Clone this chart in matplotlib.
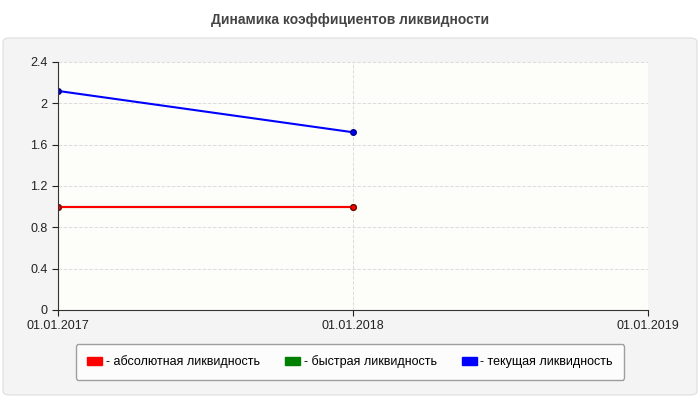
import matplotlib
matplotlib.use("Agg")
import matplotlib.pyplot as plt
from matplotlib.patches import FancyBboxPatch, Patch

plt.rcParams['font.family'] = ['Liberation Sans', 'DejaVu Sans']

dates = ["01.01.2017", "01.01.2018", "01.01.2019"]
absolute = [1.0, 1.0]
quick = [1.0, 1.0]
current = [2.12, 1.72]
yticks = [0, 0.4, 0.8, 1.2, 1.6, 2, 2.4]
ylabels = ["0", "0.4", "0.8", "1.2", "1.6", "2", "2.4"]

fig = plt.figure(figsize=(7, 4), dpi=100)
fig.patch.set_facecolor("white")
panel = FancyBboxPatch((3/700, 5/400), 694/700, 357/400, boxstyle="round,pad=0,rounding_size=0.01",
                       transform=fig.transFigure, facecolor="#f4f4f4", edgecolor="#dddddd", lw=0.8,
                       zorder=-10)
fig.patches.append(panel)
fig.text(0.5, 1 - 20/400, "Динамика коэффициентов ликвидности", ha="center", va="center",
         fontsize=10, fontweight="bold", color="#444444")

ax = fig.add_axes([58/700, 1 - 310/400, 590/700, 248/400])
ax.set_zorder(5)
ax.set_facecolor("#fdfdf9")
ax.set_xlim(0, 2)
ax.set_ylim(0, 2.4)
ax.set_yticks(yticks)
ax.set_yticklabels(ylabels)
ax.set_xticks(range(len(dates)))
ax.set_xticklabels(dates)
ax.grid(True, color="#dddddd", ls="--", lw=0.7)
for s in ["top", "right"]:
    ax.spines[s].set_visible(False)
for s in ["left", "bottom"]:
    ax.spines[s].set_color("#333333")
ax.tick_params(labelsize=9, colors="#222222", length=4)
x = list(range(len(absolute)))
ax.plot(x, quick, color="green", lw=1.5, marker="o", ms=4)
ax.plot(x, absolute, color="red", lw=1.5, marker="o", ms=4, mec="#880000")
ax.plot(x, current, color="blue", lw=1.5, marker="o", ms=4, mec="#000088")

handles = [Patch(color="red"), Patch(color="green"), Patch(color="blue")]
labels = ["- абсолютная ликвидность", "- быстрая ликвидность", "- текущая ликвидность"]
leg = fig.legend(handles, labels, loc="center", bbox_to_anchor=(350/700, 1 - 362/400), ncol=3,
                 fontsize=9, frameon=True, handlelength=1.2, handleheight=0.6, handletextpad=0.3,
                 columnspacing=2.0, borderpad=0.9, fancybox=True)
leg.get_frame().set_edgecolor("#888888")
leg.get_frame().set_facecolor("white")
fig.savefig("out.png", dpi=100)
